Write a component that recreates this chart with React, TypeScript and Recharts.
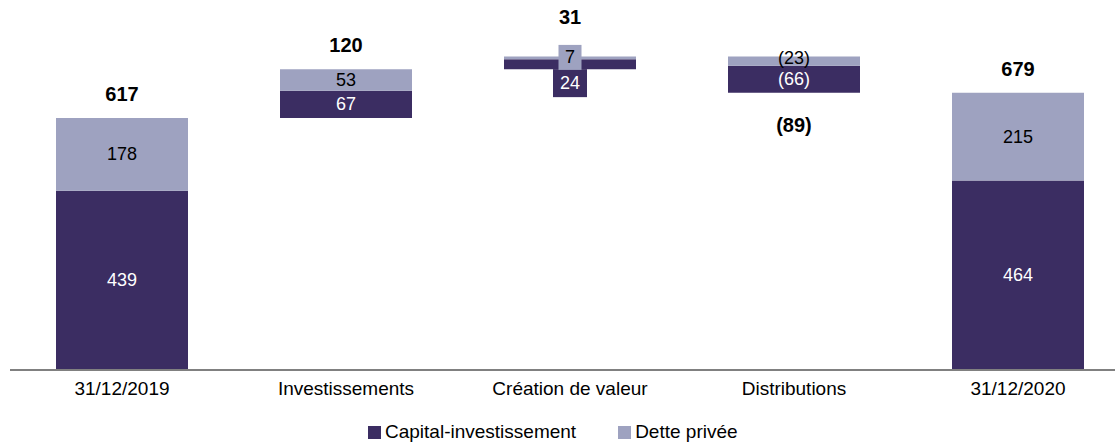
import { BarChart, Bar, XAxis, YAxis, LabelList } from 'recharts'

const categories = ['31/12/2019', 'Investissements', 'Création de valeur', 'Distributions', '31/12/2020']
// invisible base of each floating bar
const baseValues = [0, 617, 737, 679, 0]
const capitalValues = [439, 67, 24, 66, 464]
const detteValues = [178, 53, 7, 23, 215]
const capitalLabels = ['439', '67', '24', '(66)', '464']
const detteLabels = ['178', '53', '7', '(23)', '215']
const totalLabels = ['617', '120', '31', '(89)', '679']
const negative = [false, false, false, true, false]

const DARK = '#3b2d62'
const LIGHT = '#9ea2c0'
const FONT = '"Liberation Sans", Arial, sans-serif'

const data = categories.map((name, i) => ({
  name,
  base: baseValues[i],
  capital: capitalValues[i],
  dette: detteValues[i],
}))

const CapitalLabel = (props: any) => {
  const { x, y, width, height, index } = props
  const cx = x + width / 2
  if (index === 2) {
    // too thin: boxed label under the bar
    const top = y + height
    return (
      <g>
        <rect x={cx - 17} y={top} width={34} height={28} fill={DARK} />
        <text x={cx} y={top + 14} fill="#fff" fontSize={18} fontFamily={FONT} textAnchor="middle" dominantBaseline="central">
          {capitalLabels[index]}
        </text>
      </g>
    )
  }
  return (
    <g>
      <text x={cx} y={y + height / 2} fill="#fff" fontSize={18} fontFamily={FONT} textAnchor="middle" dominantBaseline="central">
        {capitalLabels[index]}
      </text>
      {negative[index] && (
        <text x={cx} y={y + height + 32} fill="#000" fontSize={20} fontWeight="bold" fontFamily={FONT} textAnchor="middle" dominantBaseline="central">
          {totalLabels[index]}
        </text>
      )}
    </g>
  )
}

const DetteLabel = (props: any) => {
  const { x, y, width, height, index } = props
  const cx = x + width / 2
  const mid = y + height / 2
  let total = null
  if (!negative[index]) {
    const offset = index === 2 ? 39 : 24
    total = (
      <text x={cx} y={y - offset} fill="#000" fontSize={20} fontWeight="bold" fontFamily={FONT} textAnchor="middle" dominantBaseline="central">
        {totalLabels[index]}
      </text>
    )
  }
  if (index === 2) {
    return (
      <g>
        <rect x={cx - 11.5} y={mid - 13} width={23} height={25} fill={LIGHT} />
        <text x={cx} y={mid - 1} fill="#000" fontSize={18} fontFamily={FONT} textAnchor="middle" dominantBaseline="central">
          {detteLabels[index]}
        </text>
        {total}
      </g>
    )
  }
  return (
    <g>
      <text x={cx} y={mid - (index === 3 ? 3 : 0)} fill="#000" fontSize={18} fontFamily={FONT} textAnchor="middle" dominantBaseline="central">
        {detteLabels[index]}
      </text>
      {total}
    </g>
  )
}

function LegendItem({ color, label }: { color: string; label: string }) {
  return (
    <span style={{ display: 'inline-flex', alignItems: 'center', marginRight: 42 }}>
      <span style={{ width: 13, height: 13, background: color, display: 'inline-block', marginRight: 4 }} />
      <span>{label}</span>
    </span>
  )
}

export default function App() {
  return (
    <div style={{ position: 'absolute', left: 0, top: 0, width: 1115, height: 445, overflow: 'hidden', background: '#fff' }}>
      <BarChart width={1130} height={445} data={data} margin={{ top: 23, right: 0, left: 10, bottom: 45 }}>
        <XAxis
          dataKey="name"
          axisLine={{ stroke: '#808080', strokeWidth: 2 }}
          tickLine={false}
          tickMargin={6}
          height={30}
          tick={{ fill: '#000', fontSize: 19, fontFamily: FONT }}
          interval={0}
        />
        <YAxis hide domain={[0, 850]} />
        <Bar dataKey="base" stackId="a" fill="transparent" barSize={132} isAnimationActive={false} />
        <Bar dataKey="capital" stackId="a" fill={DARK} barSize={132} isAnimationActive={false}>
          <LabelList dataKey="capital" content={CapitalLabel} />
        </Bar>
        <Bar dataKey="dette" stackId="a" fill={LIGHT} barSize={132} isAnimationActive={false}>
          <LabelList dataKey="dette" content={DetteLabel} />
        </Bar>
      </BarChart>
      <div
        style={{
          position: 'absolute',
          left: 368,
          top: 422,
          fontFamily: FONT,
          fontSize: 19,
          lineHeight: '20px',
          color: '#000',
          whiteSpace: 'nowrap',
        }}
      >
        <LegendItem color={DARK} label="Capital-investissement" />
        <LegendItem color={LIGHT} label="Dette privée" />
      </div>
    </div>
  )
}
